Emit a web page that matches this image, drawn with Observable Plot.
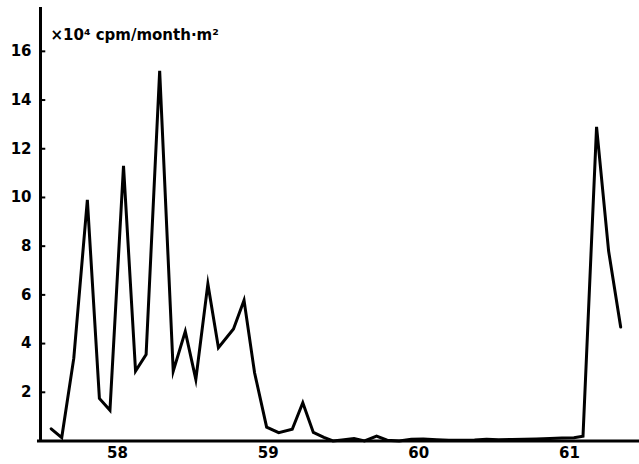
<!DOCTYPE html>
<html>
<head>
<meta charset="utf-8">
<script src="https://cdn.jsdelivr.net/npm/d3@7"></script>
<script src="https://cdn.jsdelivr.net/npm/@observablehq/plot@0.6"></script>
<style>
  html, body { margin: 0; padding: 0; background: #fff; }
</style>
</head>
<body>
<div id="chart"></div>
<script>
// Decimal year (19xx) of each monthly sample
const years = [
  57.56, 57.63, 57.71, 57.80, 57.88, 57.95, 58.04, 58.12, 58.19, 58.28,
  58.37, 58.45, 58.52, 58.60, 58.67, 58.77, 58.84, 58.91, 58.99, 59.07,
  59.16, 59.23, 59.30, 59.37, 59.43, 59.49, 59.57, 59.64, 59.72, 59.79,
  59.87, 59.95, 60.03, 60.12, 60.20, 60.28, 60.37, 60.45, 60.53, 60.62,
  60.70, 60.78, 60.87, 60.95, 61.03, 61.09, 61.18, 61.26, 61.34
];
// Deposition, x10^4 cpm/month·m²
const values = [
  0.5, 0.14, 3.4, 9.9, 1.75, 1.26, 11.3, 2.87, 3.55, 15.2,
  2.87, 4.5, 2.53, 6.45, 3.83, 4.6, 5.78, 2.8, 0.57, 0.34,
  0.48, 1.57, 0.35, 0.15, 0.0, 0.04, 0.1, 0.0, 0.2, 0.03,
  0.0, 0.07, 0.08, 0.05, 0.03, 0.03, 0.04, 0.07, 0.05, 0.06,
  0.07, 0.08, 0.1, 0.12, 0.13, 0.2, 12.9, 7.8, 4.68
];
const xTicks = [58, 59, 60, 61];
const yTicks = [2, 4, 6, 8, 10, 12, 14, 16];
const unitLabel = "×10⁴ cpm/month·m²";

const xDomain = [57.489, 61.465];
const yDomain = [0, 17.8];

const data = years.map((x, i) => ({x, y: values[i]}));

const chart = Plot.plot({
  width: 639,
  height: 464,
  marginLeft: 40,
  marginRight: 0,
  marginTop: 7,
  marginBottom: 23.5,
  style: {fontFamily: "DejaVu Sans", fontWeight: "bold", fontSize: "15px", color: "#000", background: "#fff"},
  x: {domain: xDomain, ticks: xTicks, tickSize: 0, tickPadding: 6, label: null, tickFormat: d => String(d)},
  y: {domain: yDomain, ticks: yTicks, tickSize: 0, tickPadding: 9, label: null, tickFormat: d => String(d)},
  marks: [
    Plot.ruleY(yTicks, {x1: xDomain[0], x2: xDomain[0] + 0.035, stroke: "#000", strokeWidth: 2}),
    Plot.line(data, {x: "x", y: "y", stroke: "#000", strokeWidth: 3, strokeLinejoin: "miter", strokeMiterlimit: 10}),
    Plot.ruleX([xDomain[0]], {stroke: "#000", strokeWidth: 3}),
    Plot.ruleY([0], {x1: xDomain[0] - 0.02, x2: xDomain[1], stroke: "#000", strokeWidth: 3}),
    Plot.text([unitLabel], {x: 57.555, y: 16.65, text: d => d, textAnchor: "start", fontSize: 15, fontWeight: "bold", fill: "#000"})
  ]
});
document.getElementById("chart").appendChild(chart);
</script>
</body>
</html>
